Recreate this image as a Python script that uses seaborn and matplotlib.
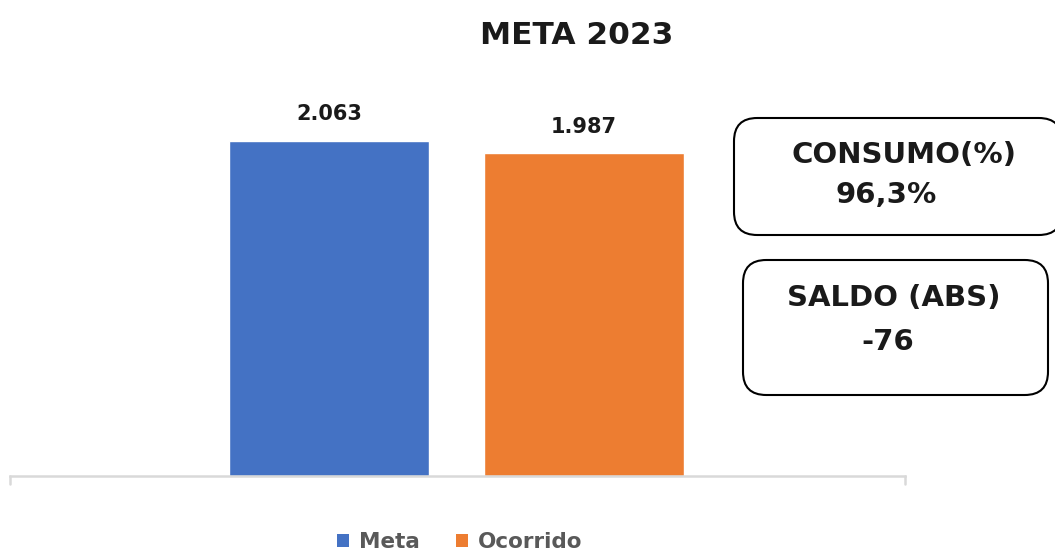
import matplotlib
matplotlib.use("Agg")
import matplotlib.pyplot as plt
from matplotlib.patches import FancyBboxPatch, Patch
import seaborn as sns
import pandas as pd

categories = ["Meta", "Ocorrido"]
values = [2063, 1987]
colors = ["#4472C4", "#ED7D31"]
title = "META 2023"
box1_lines = ["CONSUMO(%)", "96,3%"]
box2_lines = ["SALDO (ABS)", "-76"]

sns.set_theme(style="white")
plt.rcParams['font.family'] = ['DejaVu Sans']

W, H = 1055, 552
fig = plt.figure(figsize=(W / 100, H / 100), dpi=100)
ax = fig.add_axes([10 / W, (H - 476) / H, 895 / W, 389.6 / H])

df = pd.DataFrame({"cat": categories, "val": values})
sns.barplot(data=df, x="cat", y="val", hue="cat", palette=colors,
            width=0.784, ax=ax, legend=False, saturation=1)

ax.set_xlim(-1.251, 2.259)
ax.set_ylim(0, 2400)
ax.set_xlabel("")
ax.set_ylabel("")
ax.set_xticks([])
ax.set_yticks([])
for s in ["top", "right", "left"]:
    ax.spines[s].set_visible(False)
ax.spines["bottom"].set_color("#d9d9d9")
ax.spines["bottom"].set_linewidth(1.8)
for xa in (0, 1):
    ax.plot([xa, xa], [0, -8 / 389.6], transform=ax.transAxes,
            color="#d9d9d9", lw=1.8, clip_on=False)

for cont in ax.containers:
    ax.bar_label(cont, labels=[f"{v:,.0f}".replace(",", ".") for v in cont.datavalues],
                 padding=12, fontsize=15, fontweight="bold", color="#1a1a1a")

fig.text(577 / W, 1 - 35 / H, title, ha="center", va="center",
         fontsize=22.5, fontweight="bold", color="#1a1a1a")

def box(x0, y0, x1, y1):
    p = FancyBboxPatch((x0 / W, 1 - y1 / H), (x1 - x0) / W, (y1 - y0) / H,
                       boxstyle="round,pad=0,rounding_size=0.022",
                       transform=fig.transFigure, facecolor="white",
                       edgecolor="black", lw=1.5, mutation_aspect=W / H)
    fig.patches.append(p)

box(734, 118, 1062, 235)
box(743, 260, 1048, 395)

tkw = dict(ha="center", va="center", fontsize=21, fontweight="bold", color="#1a1a1a")
fig.text(904 / W, 1 - 155 / H, box1_lines[0], **tkw)
fig.text(886 / W, 1 - 195 / H, box1_lines[1], **tkw)
fig.text(894 / W, 1 - 298 / H, box2_lines[0], **tkw)
fig.text(888 / W, 1 - 342 / H, box2_lines[1], **tkw)

handles = [Patch(facecolor=c, edgecolor="none") for c in colors]
fig.legend(handles, categories, loc="center", bbox_to_anchor=(460 / W, 1 - 542 / H),
           ncol=2, frameon=False, handlelength=0.55, handleheight=0.55,
           handletextpad=0.45, columnspacing=1.7,
           prop={"family": "DejaVu Sans", "weight": "bold", "size": 15.5},
           labelcolor="#595959")

fig.savefig("out.png", dpi=100)
